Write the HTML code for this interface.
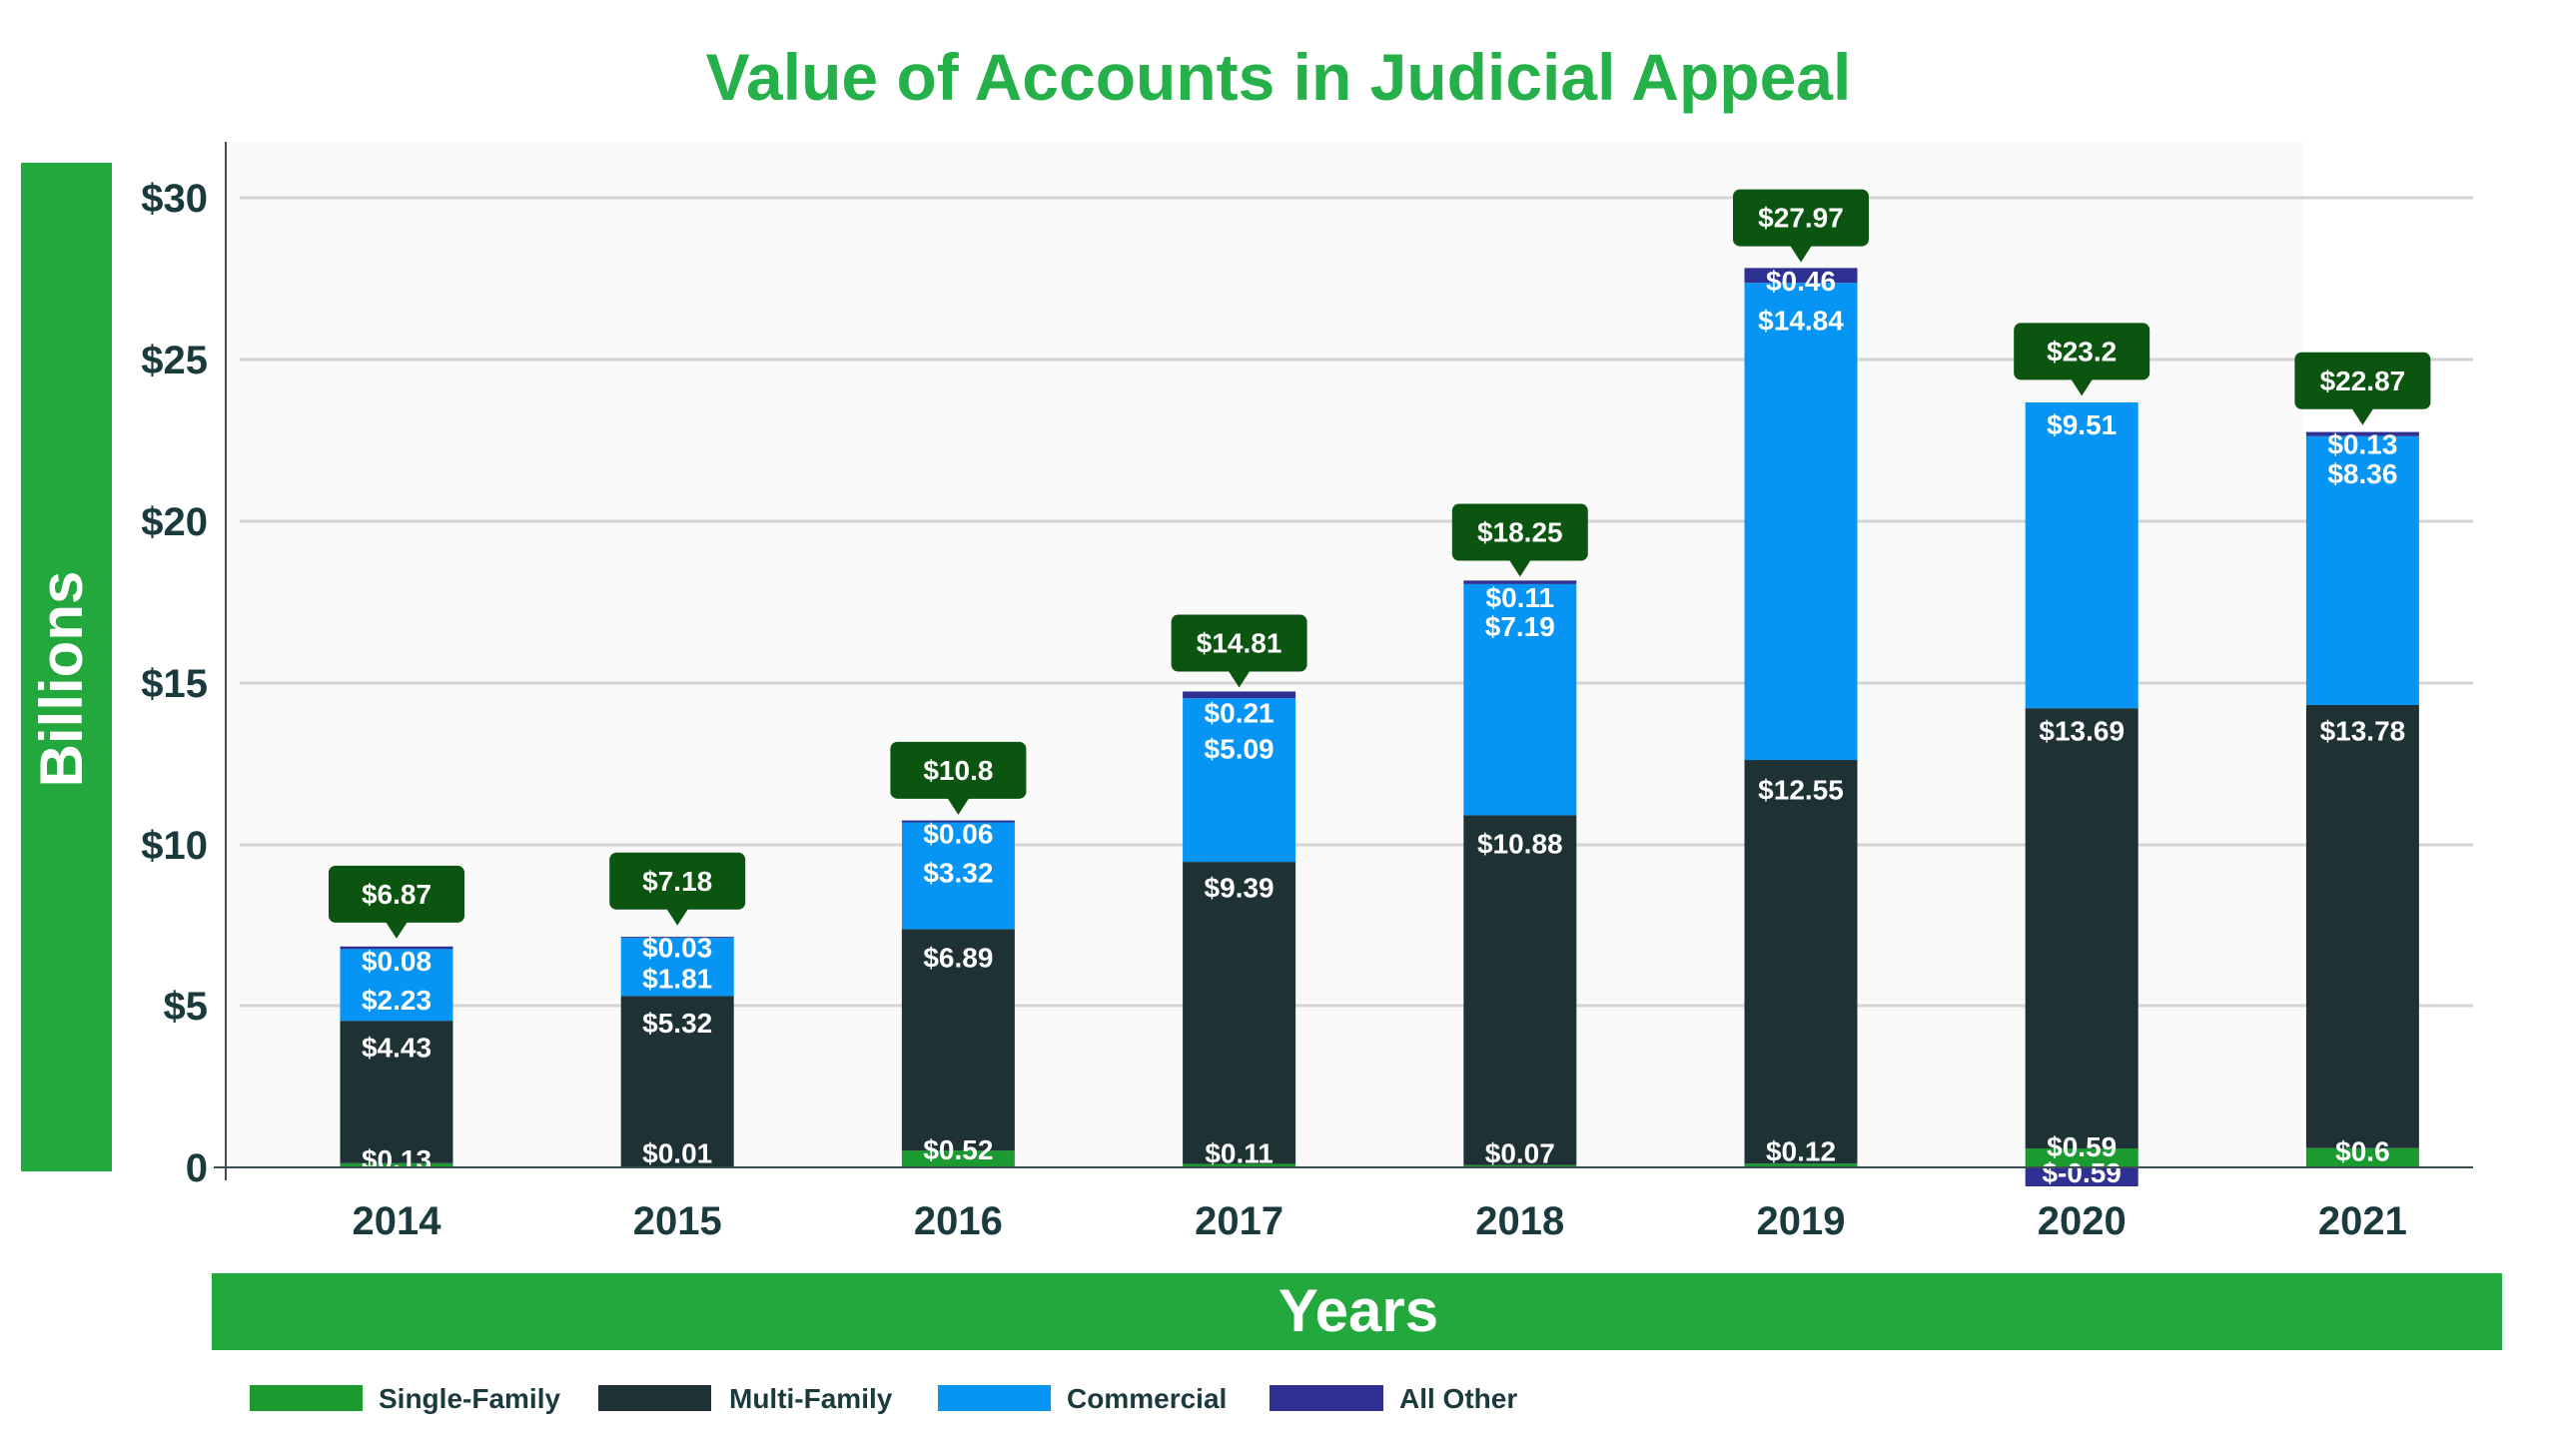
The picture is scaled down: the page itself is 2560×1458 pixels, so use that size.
<!DOCTYPE html>
<html><head><meta charset="utf-8"><style>
html,body{margin:0;padding:0;background:#fff;}
svg{display:block;}
text{font-family:"Liberation Sans",Arial,sans-serif;font-weight:bold;}
</style></head><body>
<svg width="2560" height="1458" viewBox="0 0 2560 1458" xmlns="http://www.w3.org/2000/svg">
<text x="1280" y="100" text-anchor="middle" font-size="66" fill="#25b04a">Value of Accounts in Judicial Appeal</text>
<rect x="21" y="163" width="91" height="1010" fill="#22a83c"/>
<text transform="translate(82,680) rotate(-90)" text-anchor="middle" font-size="60" fill="#fff">Billions</text>
<rect x="226" y="142" width="2080" height="1027" fill="#fafafa"/>
<g stroke="#d4d4d4" stroke-width="3">
<line x1="240" x2="2476" y1="198" y2="198"/>
<line x1="240" x2="2476" y1="360" y2="360"/>
<line x1="240" x2="2476" y1="522" y2="522"/>
<line x1="240" x2="2476" y1="684" y2="684"/>
<line x1="240" x2="2476" y1="846" y2="846"/>
<line x1="240" x2="2476" y1="1007" y2="1007"/>
</g>
<g font-size="40" fill="#1b3a3e" text-anchor="end">
<text x="208" y="212">$30</text><text x="208" y="374">$25</text><text x="208" y="536">$20</text>
<text x="208" y="698">$15</text><text x="208" y="860">$10</text><text x="208" y="1021">$5</text><text x="208" y="1183">0</text>
</g>
<g id="bars"></g>
<line x1="226" y1="142" x2="226" y2="1182" stroke="#3d4e52" stroke-width="2"/>
<line x1="214" y1="1169" x2="2476" y2="1169" stroke="#3d4e52" stroke-width="2"/>
<g font-size="40" fill="#1b3a3e" text-anchor="middle" id="years"></g>
<rect x="212" y="1275" width="2293" height="77" fill="#22a83c"/>
<text x="1360" y="1333" text-anchor="middle" font-size="60" fill="#fff">Years</text>
<g font-size="28" fill="#1b3a3e">
<rect x="250" y="1387" width="113" height="26" fill="#1b9a30"/><text x="379" y="1410">Single-Family</text>
<rect x="599" y="1387" width="113" height="26" fill="#1e3236"/><text x="730" y="1410">Multi-Family</text>
<rect x="939" y="1387" width="113" height="26" fill="#0795f5"/><text x="1068" y="1410">Commercial</text>
<rect x="1271" y="1387" width="114" height="26" fill="#2e3192"/><text x="1401" y="1410">All Other</text>
</g>
</svg>
<script>
const data=[
[2014,0.13,4.43,2.23,0.08,'$6.87',[711,642,613,589],548],
[2015,0.01,5.32,1.81,0.03,'$7.18',[707,627,600,581],540],
[2016,0.52,6.89,3.32,0.06,'$10.8',[705,587,535,511],472],
[2017,0.11,9.39,5.09,0.21,'$14.81',[707,544,459,437],394],
[2018,0.07,10.88,7.19,0.11,'$18.25',[707,517,384,366],326],
[2019,0.12,12.55,14.84,0.46,'$27.97',[706,484,196,172],133],
[2020,0.59,13.69,9.51,-0.59,'$23.2',[703,448,260,719],215],
[2021,0.6,13.78,8.36,0.13,'$22.87',[706,448,290,272],233]];
const ns='http://www.w3.org/2000/svg';
const g=document.getElementById('bars'),yg=document.getElementById('years');
const S=32.2;
const Y=v=>1169-v*S, D=d=>198+(d-121)*1.632;
const cols=['#1b9a30','#1e3236','#0795f5','#2e3192'];
function el(t,a,p,txt){const e=document.createElementNS(ns,t);for(const k in a)e.setAttribute(k,a[k]);if(txt)e.textContent=txt;p.appendChild(e);return e;}
data.forEach((d,i)=>{
 const cx=397+i*281.2,w=113,x=cx-w/2;let cum=0;
 for(let s=0;s<4;s++){const v=d[1+s];
  if(v<0){el('rect',{x:x,y:Y(0),width:w,height:-v*S,fill:cols[s]},g);}
  else{el('rect',{x:x,y:Y(cum+v),width:w,height:v*S,fill:cols[s]},g);cum+=v;}
 }
 for(let s=0;s<4;s++){el('text',{x:cx,y:D(d[6][s])+10,'text-anchor':'middle','font-size':28,fill:'#fff'},g,'$'+d[1+s]);}
 const by=D(d[7]);
 el('rect',{x:cx-68,y:by-28,width:136,height:57,rx:7,fill:'#0b5510'},g);
 el('path',{d:`M${cx-11} ${by+28} L${cx} ${by+45} L${cx+11} ${by+28}Z`,fill:'#0b5510'},g);
 el('text',{x:cx,y:by+10,'text-anchor':'middle','font-size':28,fill:'#fff'},g,d[5]);
 el('text',{x:cx,y:1236},yg,String(d[0]));
});
</script>
</body></html>
